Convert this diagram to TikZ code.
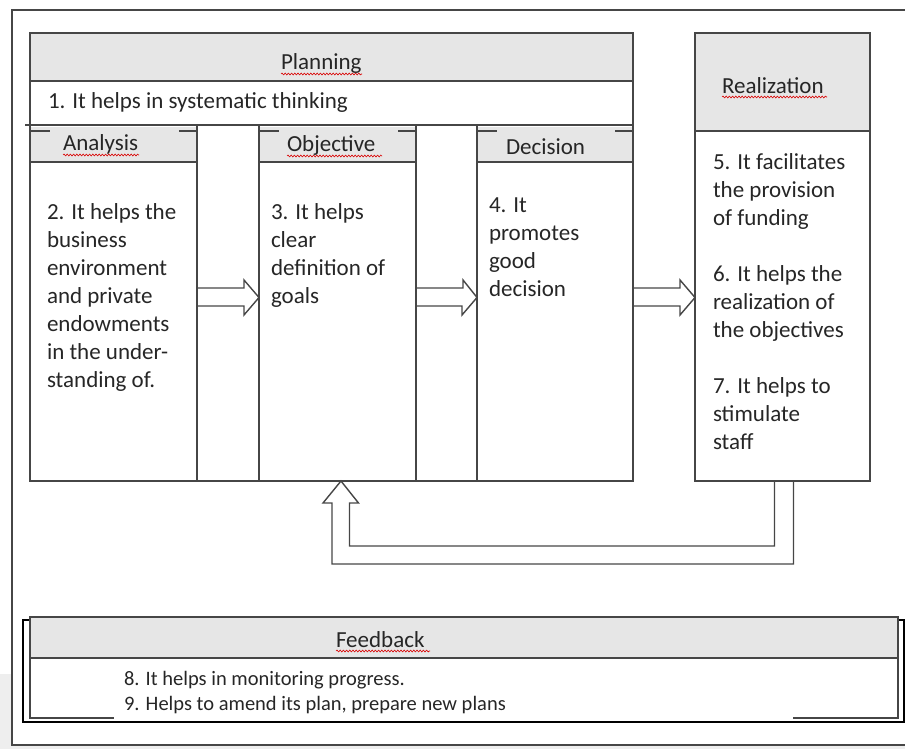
\documentclass[tikz,border=0pt]{standalone}
\usepackage{fontspec}
\setmainfont{Carlito}
\usetikzlibrary{calc}
\usetikzlibrary{decorations.pathmorphing}
\definecolor{mygray}{RGB}{230,230,230}
\definecolor{myline}{RGB}{70,70,70}
\definecolor{pagegray}{RGB}{238,238,238}
\newcommand{\mainsize}{\fontsize{23}{28}\selectfont}
\newcommand{\fbsize}{\fontsize{20.5}{25}\selectfont}
\tikzstyle{cell} = [draw=myline, line width=1.4, outer sep=0, inner sep=0,
    anchor=north west]
\tikzstyle{head} = [fill=mygray, draw=none, outer sep=0, inner sep=0,
    anchor=north west]
\tikzstyle{rule} = [draw=myline, line width=1.4]
\tikzstyle{txt} = [outer sep=0, inner sep=0, anchor=base west, align=left,
    font=\mainsize, text=black!85]
\tikzstyle{barrow} = [draw=myline, line width=1.4, line join=miter]
\tikzstyle{spell} = [draw=red!85!black, line width=0.6, decorate,
    decoration={snake, amplitude=0.9, segment length=3.2}]

\begin{document}
\begin{tikzpicture}[x=1pt, y=-1pt]
\useasboundingbox (0,0) rectangle (905,749);

%%% page
\fill[pagegray] (0,674) rectangle (12,749);
\fill[pagegray] (12,745) rectangle (905,749);
\draw[rule] (905,10) -- (12,10) -- (12,745) -- (905,745);

%%% header fills
\node[head, minimum width=603, minimum height=48] (planhdr) at (30,33) {};
\node[head, minimum width=167, minimum height=35] (anahdr) at (30,127) {};
\node[head, minimum width=157, minimum height=35] (objhdr) at (259,127) {};
\node[head, minimum width=156, minimum height=35] (dechdr) at (477,127) {};
\node[head, minimum width=175, minimum height=98] (realhdr) at (695,33) {};

%%% planning table
\node[cell, minimum width=603, minimum height=92] (plan) at (30,33) {};
\draw[rule] (planhdr.south west) -- (planhdr.south east);
\draw[rule] (25,125) -- (plan.south west);
\node[cell, minimum width=167, minimum height=356] (ana) at (30,125) {};
\node[cell, minimum width=157, minimum height=356] (obj) at (259,125) {};
\node[cell, minimum width=156, minimum height=356] (dec) at (477,125) {};
\draw[rule] (ana.south east) -- (obj.south west);
\draw[rule] (obj.south east) -- (dec.south west);
\foreach \h in {anahdr,objhdr,dechdr} {
  \draw[rule] (\h.south west) -- (\h.south east);
  \draw[rule] ($(\h.north west)+(0,4)$) -- ++(20,0);
  \draw[rule] ($(\h.north east)+(0,4)$) -- ++(-18,0);
}

%%% realization
\node[cell, minimum width=175, minimum height=448] (real) at (695,33) {};
\draw[rule] (realhdr.south west) -- (realhdr.south east);

%%% arrows
\foreach \a/\b in {ana/obj, obj/dec, dec/real} {
  \draw[barrow] ($(\a.east)+(0,-15)$) -- ++(47,0) -- ++(0,-8)
    -- ($(\b.west |- \a.east)+(0,-5.5)$) -- ++(-15,17.5) -- ++(0,-9)
    -- ($(\a.east)+(0,3)$);
}
\draw[barrow] ($(real.south)+(-8,0)$) |- ($(obj.south)+(12,65)$)
  -- ($(obj.south)+(12,22)$) -- ++(9,0) -- ($(obj.south)+(3.5,0)$)
  -- ++(-18,22) -- ++(9,0) |- ($(real.south)+(11,83)$)
  -- ($(real.south)+(11,0)$);

%%% feedback
\node[cell, draw=black, line width=2.6, minimum width=881, minimum height=102] (feed) at (23,620) {};
\node[head, draw=myline, line width=1.2, minimum width=868, minimum height=41] (feedhdr) at (30,617) {};
\draw[rule] (feedhdr.south west) -- ++(0,60) -- ++(84,0);
\draw[rule] (feedhdr.south east) -- ++(0,60) -- ++(-105,0);

%%% texts (multi-line: base is the last line)
\node[txt] (plantxt) at (281,70) {Planning};
\node[txt] (p1) at (48,109) {1. It helps in systematic thinking};
\node[txt] (anatxt) at (63,151) {Analysis};
\node[txt] (objtxt) at (287,152) {Objective};
\node[txt] (dectxt) at (506,154) {Decision};
\node[txt] (realtxt) at (722,94) {Realization};
\node[txt] (feedtxt) at (336,647) {Feedback};

\node[txt] (p2) at (47,387) {2. It helps the\\business\\environment\\and private\\endowments\\in the under-\\standing of.};
\node[txt] (p3) at (271,303) {3. It helps\\clear\\definition of\\goals};
\node[txt] (p4) at (489,296) {4. It\\promotes\\good\\decision};
\node[txt] (p5) at (713,449) {5. It facilitates\\the provision\\of funding\\[28pt]6. It helps the\\realization of\\the objectives\\[28pt]7. It helps to\\stimulate\\staff};
\node[txt, font=\fbsize] (p8) at (124,710) {8. It helps in monitoring progress.\\9. Helps to amend its plan, prepare new plans};

%%% spelling marks
\draw[spell] (281,74) -- (362,74);
\draw[spell] (63,155) -- (139,155);
\draw[spell] (287,156) -- (382,156);
\draw[spell] (722,97) -- (827,97);
\draw[spell] (336,651) -- (430,651);

\end{tikzpicture}
\end{document}
